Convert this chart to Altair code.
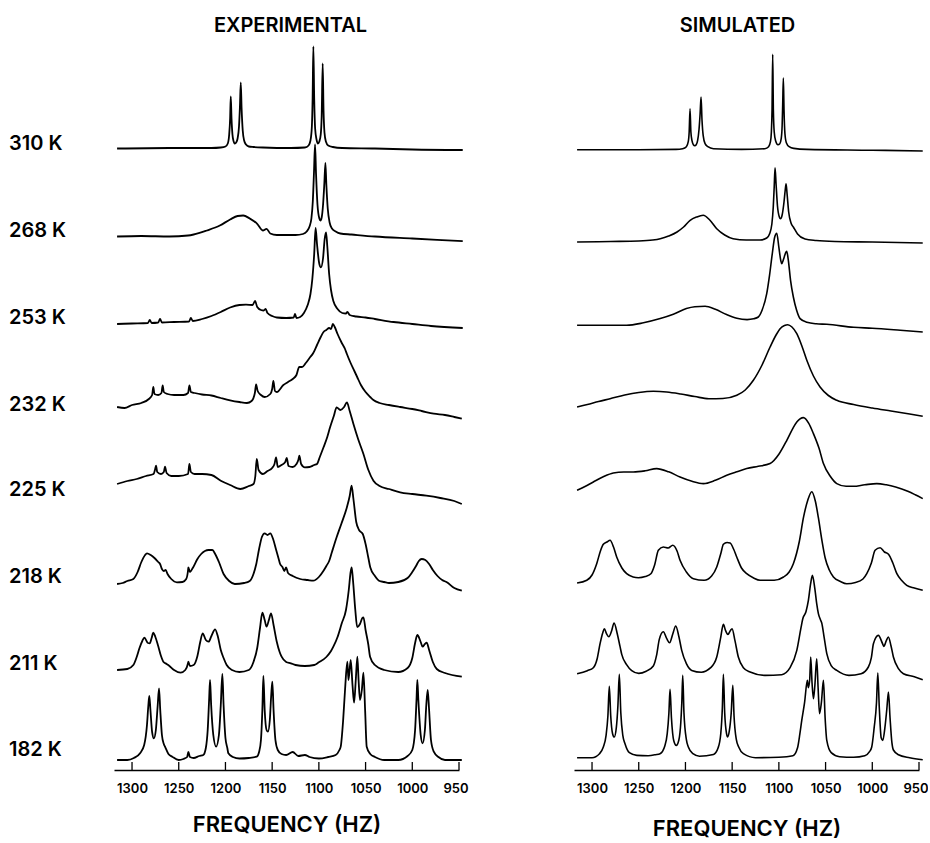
import altair as alt
import pandas as pd

FONT = "Inter"
WEIGHT = 600
TEMPS = ["310 K", "268 K", "253 K", "232 K", "225 K", "218 K", "211 K", "182 K"]
TICKS = [1300, 1250, 1200, 1150, 1100, 1050, 1000, 950]

# ---- Experimental spectra: (frequency Hz, intensity above the trace baseline) ----
EXP_310 = [(1316,0),(1260,0.5),(1215,0.5),(1205,1),(1200,2),(1197.5,5),(1196,14),(1195,30),(1194.3,52),(1193.5,30),(1192.5,14),(1191.5,8),(1190,5),(1188.5,6),(1187,10),(1185.5,22),(1184.5,42),(1183.6,66),(1182.7,40),(1181.5,18),(1180,8),(1178,4),(1175,2),(1170,1.5),(1160,1),(1130,0.5),(1115,1),(1111,3),(1109,8),(1107.5,22),(1106.7,50),(1105.9,102),(1105,50),(1104,20),(1102.5,9),(1101,5),(1099.5,7),(1098,14),(1097,32),(1095.9,85),(1095,38),(1094,16),(1092.5,7),(1090,3),(1085,1.5),(1075,0.5),(1040,0),(1000,-1),(946,-1.5)]
EXP_268 = [(1316,0),(1290,0.5),(1260,0),(1240,1),(1234,2),(1220,6),(1206,11),(1195,17),(1187,20.5),(1181,21),(1174,18),(1166,12.7),(1160,6),(1156,7.7),(1152,3),(1145,1.5),(1125,1.5),(1117,2.5),(1113,5),(1110,10),(1108,18),(1106.5,35),(1105.2,65),(1104.1,92),(1103,62),(1101.5,32),(1099.5,18),(1098.3,16),(1097,19),(1095.5,32),(1094.2,52),(1093,73.6),(1092,52),(1090.5,28),(1088.5,14),(1086,8),(1082,5),(1077,3),(1065,2),(1040,0),(1000,-2),(946,-4.7)]
EXP_253 = [(1316,0),(1300,0.5),(1283,1),(1281,4),(1279,1),(1272,1.5),(1270,5),(1268,1.5),(1255,2),(1239,2.5),(1237,6),(1235,3),(1225,5),(1215,8),(1205,12),(1195,16.5),(1185,19),(1178,19.3),(1171,19),(1168.3,23),(1166,17),(1162,14),(1159,13.5),(1157,15),(1155,11),(1150,8),(1145,6.5),(1135,6),(1127,6.5),(1125.5,10),(1124,6),(1120,7),(1116,11),(1112,19),(1109,30),(1107,45),(1105,70),(1103.5,96),(1102,80),(1099.5,60),(1097.8,56.7),(1095.5,66),(1093.8,85),(1092.3,91.7),(1091,78),(1089,50),(1087,34),(1084.5,23),(1080,15),(1075,11),(1071,10.5),(1069.5,12),(1067,9),(1060,7.5),(1050,6.5),(1040,5),(1020,2),(1000,0),(980,-2),(946,-4)]
EXP_232 = [(1316,0),(1308,-1),(1300,2),(1290,4),(1282,8),(1278.5,12),(1277.2,20),(1276,13),(1272,12),(1268.5,14),(1267.2,21.7),(1266,15),(1262,13),(1255,12),(1245,12),(1240,14),(1238.6,21.7),(1237,15),(1233,14),(1225,12.5),(1215,11.5),(1205,9),(1195,6.7),(1185,5),(1177,4),(1172,6),(1168.5,14),(1167.2,22.7),(1165.5,16),(1162,12),(1158,10),(1152,13),(1150,18),(1148.7,26),(1147,16),(1145,15),(1138,22),(1133,25),(1128,28),(1124,32),(1121,40),(1118,40),(1114,44),(1110,49),(1106,54),(1102,62),(1098,70),(1095,75),(1092,77),(1089,79),(1087,78),(1085,83),(1083,80),(1080,73),(1076,65),(1072,58),(1070,53),(1066,44),(1062,36),(1059,30),(1055,22),(1050,15),(1045,10),(1041.6,7),(1035,4),(1025,2),(1013,0),(1000,-2),(990,-4),(977,-6.7),(965,-8),(955,-10),(947,-11.7)]
EXP_225 = [(1316,0),(1305,3),(1295,5),(1285,8),(1277,10),(1275.5,14),(1274.3,18.3),(1273,12),(1269,10),(1266,12),(1264.7,17.3),(1263,11),(1258,8),(1250,8),(1240,10),(1238.6,20),(1237,12),(1233,10),(1225,10),(1215,9),(1205,3.3),(1195,-1),(1184,-5),(1175,-2),(1170,0),(1168,8),(1166.5,25),(1164.5,14),(1160,10),(1155,13),(1150,16),(1147.5,20),(1145.8,26.7),(1144,17),(1140,19),(1136,22),(1134.4,26),(1132.5,18),(1128,17),(1124,20),(1122,24),(1120.9,28.3),(1119,20),(1115,16.7),(1110,17),(1105,19),(1102,20),(1099,27),(1095,36.7),(1091,47),(1088,56.7),(1084,68),(1081,76.7),(1077,74),(1073,77),(1070,81.7),(1067,73),(1063,60),(1058,45),(1052.3,30),(1047,14),(1041.6,3.3),(1035,-2),(1025,-5),(1013,-8.3),(1000,-10),(985,-11.7),(970,-14),(955,-17),(947,-20)]
EXP_218 = [(1316,0),(1310,1),(1305,3),(1298.6,5),(1294,12),(1290,22),(1286,29),(1284,30.7),(1280,29),(1276,26),(1272,22),(1270,20),(1268,15),(1266,13),(1264,14),(1262,10),(1258,5),(1252,1.7),(1246,2),(1242,5),(1240,14),(1239.7,16.7),(1238,12),(1235,16),(1230,25),(1226,30),(1222,33),(1218,34),(1214,34),(1211,30),(1207,22),(1202,10),(1196,3),(1190,0),(1180,1),(1174,3),(1170,10),(1167,20),(1164,35),(1161,47),(1158,50.7),(1155,49),(1152,50.7),(1149,45),(1146,35),(1143,25),(1141.5,20),(1139,17),(1137,13),(1135,16.7),(1133,11),(1128,8),(1120,5),(1112,4),(1106,3.3),(1100,7),(1095.2,13),(1092,18),(1089,23),(1086,32),(1081,46.7),(1076,60),(1070,76.7),(1067,88),(1065,98.3),(1063,85),(1060,62),(1057,54),(1053,50),(1050,40),(1047,26),(1045,16.7),(1040,8),(1035,3),(1030,2),(1025,1),(1015,2),(1005,6),(1000,12),(996,18),(993,23),(990,25),(986,24),(982,20),(978,14),(973,8),(968,4),(963,1.7),(955,-4),(947,-6.7)]
EXP_211 = [(1316,0),(1305,1),(1298.6,5),(1295,13),(1292,22),(1289,29),(1286.8,32.3),(1283,27),(1281,26.7),(1279,32),(1277.2,37.3),(1275,33),(1272,24),(1269,14),(1266.5,8.3),(1263,6),(1260,4),(1255,0),(1248,-2.7),(1243,0),(1240,7),(1239.7,8.3),(1238,4),(1234,5),(1230,14),(1227,28),(1224.4,36.7),(1221,30),(1218,28.3),(1215,34),(1211.1,40.7),(1208,33),(1205,20),(1202,12),(1198.7,5),(1193,0),(1185,-2),(1175,0),(1170,8),(1166,22),(1163,42),(1160.5,57.3),(1158,50),(1156,43.3),(1153.5,50),(1151.2,56.7),(1148.5,45),(1145,28),(1142,18),(1139.9,13.3),(1135,8),(1130,6.7),(1125,5),(1115,4),(1105,5),(1100,7.7),(1092,13),(1087,19),(1084.5,23.3),(1080,33),(1075.5,46.7),(1071,60),(1068,80),(1066,98),(1064.9,102.6),(1063.5,90),(1061,60),(1059,43),(1056,46),(1053.5,52),(1052.3,52.7),(1050,40),(1047,25),(1045.2,13.3),(1040,5),(1030,0),(1015,-2),(1005,2),(1000,12),(997,27),(994.6,35),(991,28),(989,23.3),(986.5,26),(984.6,27.3),(982,20),(978,8),(973.8,1),(965,-3),(947,-6.7)]
EXP_182 = [(1316,0),(1305,0),(1298,2),(1291.4,6.7),(1287,15),(1284,35),(1282.5,55),(1281.5,64),(1280.3,50),(1278.5,28),(1276.6,21.7),(1274.5,30),(1272.5,55),(1271.1,71.7),(1269.8,50),(1268,25),(1266,16),(1264.7,13.3),(1261,6),(1257,3.3),(1250,0),(1245,1),(1241,3),(1239.7,8),(1238,3),(1234,2),(1228,4),(1223.7,5),(1221,12),(1219,30),(1217.5,60),(1216.5,80),(1215.3,55),(1213,25),(1210,13.3),(1207,25),(1205,55),(1203.3,86),(1202,55),(1200,22),(1198,12),(1196.9,6.7),(1192,3),(1185,1.5),(1175,2),(1166.5,3.3),(1164,8),(1162,20),(1160.5,50),(1159.4,84),(1158,50),(1156,30),(1154.5,28.3),(1152.5,40),(1151,65),(1149.8,78.3),(1148.5,50),(1146.5,20),(1144,10),(1140,6),(1135,5),(1128,8),(1122,4),(1115,5),(1110,3),(1100,1.5),(1090,3),(1082,5),(1078,10),(1076.6,13.3),(1074,40),(1072,70),(1069.5,98.3),(1068.3,80),(1065.9,100),(1064,75),(1062.3,57.3),(1060.5,80),(1058.8,103.3),(1057.5,80),(1056,60),(1054,70),(1052.3,87.3),(1050.5,50),(1048.8,13.3),(1045,6),(1040,3),(1030,0),(1015,0),(1005,4),(1000,10),(997,30),(995.5,60),(994.6,80),(993.5,60),(991,25),(989,16.7),(986.5,30),(985,55),(983.5,70),(982,50),(980,20),(977,8.3),(972,3),(965,0),(947,0)]

# ---- Simulated spectra ----
SIM_310 = [(1316,0),(1250,0),(1210,0.3),(1203,1),(1199,3),(1197,8),(1196,18),(1195.1,41),(1194.2,18),(1193,9),(1191.5,5),(1190,4),(1188.5,5),(1187,9),(1185.5,20),(1184.3,36),(1183.3,52.7),(1182.3,30),(1181,14),(1179,6),(1176,3),(1170,1),(1140,0.3),(1115,1),(1111,3),(1109,8),(1108,18),(1107.3,40),(1106.6,95.4),(1105.9,40),(1105,18),(1103.5,9),(1101,5),(1099,6),(1097.5,11),(1096.5,24),(1095.9,45),(1095.2,71.7),(1094.5,40),(1093.5,16),(1092,7),(1089,3),(1084,1.3),(1070,0.3),(1000,-0.5),(946,-1.3)]
SIM_268 = [(1316,0),(1280,0.5),(1250,1),(1235,2),(1227,3.3),(1218,6),(1209,10),(1202,15),(1195,21.7),(1188,25),(1181,26.7),(1174,22),(1166.5,13.3),(1158,7),(1149,3.3),(1135,2),(1120,2),(1113,4),(1110,8),(1107.5,18),(1106,35),(1105,55),(1104.1,74.3),(1103,58),(1101.5,36),(1099.5,25),(1098.3,23.3),(1096.5,27),(1094.5,40),(1093.2,52),(1092.3,58.3),(1091.2,48),(1089.5,30),(1087,19),(1084.5,15),(1080,8),(1072,3),(1060,1.5),(1040,0.5),(1000,0),(946,-1)]
SIM_253 = [(1316,0),(1290,0),(1263,0),(1245,2.5),(1227,6.7),(1213,11),(1199,16.7),(1190,18.5),(1179,19),(1168,16),(1156,10.7),(1145,7),(1134,5.7),(1127,6.5),(1122,8.3),(1118,15),(1113,31.7),(1110,50),(1107,72),(1104.5,88),(1102.3,92),(1100,78),(1098,65),(1096.9,61.7),(1095,66),(1093,72),(1091.6,74),(1090,66),(1087.5,45),(1084.5,28.3),(1081,15),(1077.3,6.7),(1070,3),(1060,1.5),(1048.7,1),(1020,-2),(1000,-3),(970,-5),(946,-6.7)]
SIM_232 = [(1316,0),(1305,2.5),(1293,5.5),(1280.7,8.3),(1265,12),(1250,14.5),(1234.4,15.7),(1220,15),(1205,13),(1190,10.5),(1175,8.3),(1160,8.5),(1145,11.7),(1136,17),(1127.3,26.7),(1118,42),(1109.4,60),(1103,72),(1098.7,78.3),(1094,81.5),(1090.5,82.3),(1086,80),(1080.8,73.3),(1075,60),(1070.1,46.7),(1063,31),(1055.9,20),(1047,11.5),(1038,6.7),(1020,2.5),(1000,-1),(980,-4),(960,-7),(946,-9.3)]
SIM_225 = [(1316,0),(1307,4),(1298.6,8.3),(1288,13.5),(1277.2,17.3),(1266,18.3),(1255.8,18.3),(1243,19.5),(1230.8,21.7),(1218,18.5),(1205.8,13.3),(1193,9),(1180.8,6.7),(1168,10),(1155.8,15),(1145,18.5),(1134.4,21.7),(1122,24),(1109.4,26.7),(1100,36),(1091.5,50),(1085,62),(1080.8,68.3),(1073.7,72.7),(1068,67),(1063,56.7),(1057,42),(1052.3,26.7),(1045,14),(1038,6.7),(1028,4),(1020.2,4),(1008,5.5),(995.2,6.7),(985,5.5),(975,3.3),(962,-1),(954,-4.5),(946,-8.3)]
SIM_218 = [(1316,0),(1305.6,2.7),(1300,8),(1295,19.3),(1291,32),(1287.9,38.7),(1284,41),(1280.7,42.7),(1277,36),(1273.6,26),(1268,15),(1262.9,9.3),(1256,6),(1250.4,5.3),(1243,6.5),(1237,9.3),(1233,18),(1229,32.7),(1223.7,36),(1218.5,35),(1213.6,37.7),(1209,32),(1205.8,22.7),(1199,11),(1191.5,4.3),(1180,2.7),(1172,7),(1166.5,16),(1162,30),(1159.4,38.7),(1155.5,40.5),(1152.2,40),(1148.5,34),(1145.1,26),(1140,15),(1134.4,9.3),(1127,5),(1120.1,2.7),(1105,2.7),(1095,6),(1089,11),(1084.5,19.3),(1078,42),(1073.7,65.3),(1069,83),(1064.8,91.3),(1061,82),(1057.7,65.3),(1054,43),(1050.5,25.3),(1046,13),(1041.6,6),(1034,1.5),(1027.3,-0.7),(1018,0.5),(1010,4),(1005.9,9.3),(1001,20),(997,32.7),(991.6,35.3),(987,31),(982.7,28.7),(978,20),(973.7,9.3),(968,2),(963.1,-2.3),(955,-5),(946,-7.3)]
SIM_211 = [(1316,0),(1305,3),(1298.6,6),(1294.5,15),(1291.4,30),(1288.5,41),(1286.8,45),(1284.5,40),(1282,37),(1279,43),(1276.4,50.7),(1273,40),(1270,27),(1268.2,19.3),(1263,9),(1257.5,3),(1250,0.3),(1242,2.5),(1234.4,7.7),(1231,18),(1228,34.3),(1223.7,42),(1220,35),(1217,31),(1213.5,40),(1210.4,47.7),(1207,37),(1204,23.3),(1199,10),(1193.3,3.3),(1183,1.5),(1173,6),(1166.5,16.7),(1162.5,35),(1159.4,49.3),(1157,43),(1154.5,39.3),(1152,43),(1150.1,45),(1147,33),(1143.4,16.7),(1138,6),(1130.8,1.7),(1115,-1.7),(1097,-1),(1088,6),(1080.8,23.3),(1076.5,45),(1074.4,55),(1071,62),(1068.4,73.3),(1066,90),(1064.1,98.3),(1061.5,85),(1059.5,70),(1057.7,60),(1055.5,54),(1054.1,50.7),(1051.5,36),(1048.7,20),(1044,8),(1038,3.3),(1025,-1.7),(1012,0),(1004.2,6.7),(1001,16),(998.8,30),(993.5,38.3),(989,30),(987.7,27.3),(985,33),(982.8,36.7),(980,28),(977.4,16.7),(972,5),(966.7,0),(955,-3),(946,-6)]
SIM_182 = [(1316,0),(1300,0),(1292,4),(1287.9,10.7),(1285,22),(1283,42),(1281.5,71.3),(1280,42),(1278,24),(1276.2,20.7),(1274,30),(1272.3,52),(1270.8,83.3),(1269.2,45),(1267,22),(1264.7,14),(1260,5),(1252,2.3),(1240,2),(1232,3),(1227.2,4),(1222,12),(1219.5,24),(1217.7,45),(1216.5,68.3),(1215,40),(1212.5,17),(1209.8,12.3),(1207,18),(1205,35),(1203.9,55),(1202.9,82.3),(1201.6,45),(1199,18),(1196.9,10.7),(1192,4),(1185,1.5),(1170,3.3),(1165,10),(1162.2,24),(1160.5,50),(1159.4,83.3),(1158,45),(1156,24),(1154.9,20.7),(1153,27),(1151,45),(1149.3,72.3),(1148,42),(1145.5,18),(1143,10.7),(1138,4),(1125,0),(1100,0.5),(1085,2),(1080,10),(1077.5,24),(1075.5,37.3),(1072.5,55),(1069.5,77.3),(1068.5,70),(1067,78),(1065.9,100.7),(1064.5,75),(1063,59),(1061.5,72),(1059.5,99),(1058,70),(1056.5,44),(1054.5,55),(1052.3,77.3),(1050.5,40),(1048.7,17.3),(1044,5),(1035,1),(1020,0.5),(1008,2),(1003,6),(1000.6,10.7),(998,30),(995.5,55),(994.1,84.7),(992.5,50),(990.5,20),(988.8,17.3),(986.5,30),(984.5,48),(982.7,65.7),(981,40),(979,15),(977.4,7.7),(972,3),(960,0),(946,-2)]

EXP = [EXP_310, EXP_268, EXP_253, EXP_232, EXP_225, EXP_218, EXP_211, EXP_182]
SIM = [SIM_310, SIM_268, SIM_253, SIM_232, SIM_225, SIM_218, SIM_211, SIM_182]

# ---- layout (pixel rows of each trace baseline / label) ----
AXIS_Y = 773
TOP = 44
H = AXIS_Y - TOP
W = 345
EXP_BASE = [151.5, 239.5, 327, 410, 487, 587, 673, 763]
SIM_BASE = [152.7, 245, 328.3, 410, 493.3, 586, 676.7, 760.7]
LABEL_ROW = [147, 234, 321, 408, 493, 580, 667, 753]


def build(traces, bases):
    rows = []
    for t, pts, b in zip(TEMPS, traces, bases):
        off = AXIS_Y - b
        for f, h in pts:
            rows.append({"temp": t, "f": f, "y": off + h})
    return pd.DataFrame(rows)


xscale = alt.Scale(domain=[950, 1319.3], reverse=True, nice=False, zero=False)
yscale = alt.Scale(domain=[0, H], nice=False, zero=False)


def panel(traces, bases, title, tdx, tpad, sw, labels):
    df = build(traces, bases)
    xaxis = alt.Axis(values=TICKS, format="d", ticks=False, tickSize=0, grid=False,
                     labelFont=FONT, labelFontSize=13, labelFontWeight=WEIGHT,
                     labelColor="black", labelPadding=12,
                     labelFlush=1, labelFlushOffset=9,
                     domainColor="black", domainWidth=1.5,
                     title="FREQUENCY (HZ)", titleFont=FONT, titleFontSize=22,
                     titleFontWeight=WEIGHT, titleColor="black", titlePadding=tpad)
    lines = alt.Chart(df).mark_line(color="black", strokeWidth=sw, interpolate="monotone").encode(
        x=alt.X("f:Q", scale=xscale, axis=xaxis),
        y=alt.Y("y:Q", scale=yscale, axis=None),
        detail="temp:N",
    )
    tick_df = pd.DataFrame({"f": TICKS})
    ticks = alt.Chart(tick_df).mark_rule(color="black", strokeWidth=1.3).encode(
        x=alt.X("f:Q", scale=xscale),
        y=alt.value(H),
        y2=alt.value(H - 8),
    )
    layers = [lines, ticks]
    if labels:
        lab_df = pd.DataFrame({"temp": TEMPS, "ly": [AXIS_Y - r for r in LABEL_ROW]})
        txt = alt.Chart(lab_df).mark_text(align="left", baseline="middle", font=FONT,
                                          fontSize=20, fontWeight=WEIGHT, color="black").encode(
            x=alt.value(-105),
            y=alt.Y("ly:Q", scale=yscale),
            text="temp:N",
        )
        layers.append(txt)
    return alt.layer(*layers).properties(
        width=W, height=H,
        title=alt.TitleParams(title, font=FONT, fontSize=20, fontWeight=WEIGHT,
                              color="black", anchor="middle", frame="group", dx=tdx, offset=5),
    )


left = panel(EXP, EXP_BASE, "EXPERIMENTAL", 4, 19, 1.8, True)
right = panel(SIM, SIM_BASE, "SIMULATED", -9, 23, 1.6, False)

chart = alt.hconcat(left, right, spacing=115, bounds="flush").properties(
    padding={"left": 9, "top": 16, "right": 0, "bottom": 0},
    background="white",
).configure_view(stroke=None)

chart.save("out.html", embed_options={"renderer": "svg", "actions": False})
